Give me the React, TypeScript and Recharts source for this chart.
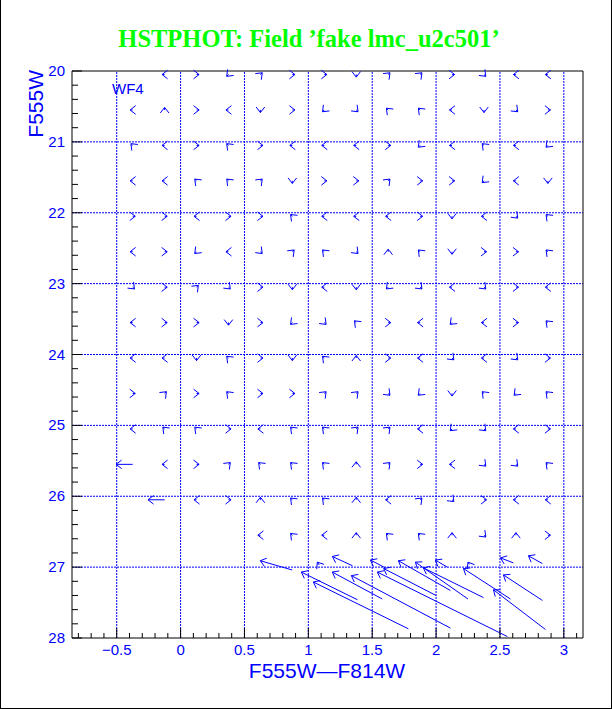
import React from "react";
import { ComposedChart, XAxis, YAxis, ReferenceLine, Scatter } from "recharts";

const BLUE = "#0000ff";
const FONT = "'Liberation Sans', Arial, sans-serif";

// bin centres (colour) and mean output magnitude of each row of bins
const colCenters = [-0.375, -0.125, 0.125, 0.375, 0.625, 0.875, 1.125, 1.375, 1.625, 1.875, 2.125, 2.375, 2.625, 2.875];
const magRows = [20.05, 20.55, 21.05, 21.55, 22.05, 22.55, 23.05, 23.55, 24.05, 24.55, 25.05, 25.55, 26.05, 26.55];

// mean shift (output - input) in each bin, [colour, magnitude]
type Shift = [number, number] | null;
const L: Shift = [-0.02, 0];
const R: Shift = [0.02, 0];
const U: Shift = [0, -0.036];
const D: Shift = [0, 0.036];
const UL: Shift = [-0.014, -0.025];
const UR: Shift = [0.014, -0.025];
const DL: Shift = [-0.014, 0.025];
const DR: Shift = [0.014, 0.025];

const row20: Shift[] = [null, L, R, DL, UR, R, R, D, UR, UR, R, DR, L, L];
const row20_5: Shift[] = [L, U, R, L, D, R, DL, DR, UL, UL, L, D, DR, R];
const row21: Shift[] = [UL, L, R, UL, R, L, L, L, R, DL, L, UL, L, DL];
const row21_5: Shift[] = [L, L, UL, UL, UR, D, R, R, UR, R, R, DL, L, D];
const row22: Shift[] = [R, R, L, R, R, UL, L, L, L, R, D, L, DR, UL];
const row22_5: Shift[] = [L, R, DL, L, DR, UR, UL, DR, U, UL, D, R, R, UL];
const row23: Shift[] = [DR, R, UR, DR, R, D, L, D, DL, DR, L, DR, R, L];
const row23_5: Shift[] = [L, R, R, D, R, DL, DR, UL, R, L, DL, L, R, UL];
const row24: Shift[] = [L, L, D, UL, R, D, UL, U, R, L, DR, L, DR, R];
const row24_5: Shift[] = [R, UR, R, UL, R, R, UR, UR, DR, DL, D, UL, DL, UL];
const row25: Shift[] = [L, UL, UL, R, L, UL, UL, UR, UR, L, DL, DR, L, R];
const row25_5: Shift[] = [[-0.13, 0], L, R, UR, UL, UL, UL, U, UR, R, L, DR, DR, UL];
const row26: Shift[] = [null, [-0.13, 0], L, R, U, UL, UL, U, L, UR, DR, R, L, L];
const row26_5: Shift[] = [null, null, null, null, L, UL, L, U, UL, UL, U, DR, U, R];

const shiftRows = [row20, row20_5, row21, row21_5, row22, row22_5, row23, row23_5, row24, row24_5, row25, row25_5, row26, row26_5];

// faint bins: [input colour, input mag, output colour, output mag]
const faintArrows: [number, number, number, number][] = [
  [0.873, 27.04, 0.624, 26.91],
  [1.384, 27.46, 0.945, 27.07],
  [1.783, 27.87, 1.039, 27.21],
  [1.085, 26.97, 1.07, 26.93],
  [1.345, 26.98, 1.188, 26.85],
  [1.579, 27.45, 1.188, 27.07],
  [2.112, 27.86, 1.337, 27.12],
  [1.603, 27.01, 1.486, 26.9],
  [2.558, 27.98, 1.54, 27.07],
  [2.0, 27.4, 1.59, 27.02],
  [2.112, 27.33, 1.705, 26.91],
  [2.25, 27.45, 1.838, 26.93],
  [2.371, 27.43, 1.9, 27.01],
  [2.088, 27.0, 1.994, 26.9],
  [2.582, 27.45, 2.214, 27.02],
  [2.26, 26.96, 2.25, 26.93],
  [2.605, 26.94, 2.504, 26.87],
  [2.856, 27.88, 2.449, 27.32],
  [2.832, 27.47, 2.527, 27.11],
  [2.832, 26.95, 2.723, 26.84],
];

const xTicks = [
  -0.8, -0.7, -0.6, -0.5, -0.4, -0.3, -0.2, -0.1, 0, 0.1, 0.2, 0.3, 0.4, 0.5, 0.6, 0.7, 0.8, 0.9,
  1, 1.1, 1.2, 1.3, 1.4, 1.5, 1.6, 1.7, 1.8, 1.9, 2, 2.1, 2.2, 2.3, 2.4, 2.5, 2.6, 2.7, 2.8, 2.9, 3, 3.1,
];
const xMajorTicks = [-0.5, 0, 0.5, 1, 1.5, 2, 2.5, 3];
const xMajorLabels = ["−0.5", "0", "0.5", "1", "1.5", "2", "2.5", "3"];

const yTicks = [
  20, 20.2, 20.4, 20.6, 20.8, 21, 21.2, 21.4, 21.6, 21.8, 22, 22.2, 22.4, 22.6, 22.8, 23, 23.2, 23.4, 23.6, 23.8,
  24, 24.2, 24.4, 24.6, 24.8, 25, 25.2, 25.4, 25.6, 25.8, 26, 26.2, 26.4, 26.6, 26.8, 27, 27.2, 27.4, 27.6, 27.8, 28,
];
const yMajorTicks = [20, 21, 22, 23, 24, 25, 26, 27, 28];
const yMajorLabels = ["20", "21", "22", "23", "24", "25", "26", "27", "28"];

const gridX = [-0.5, 0, 0.5, 1, 1.5, 2, 2.5, 3];
const gridY = [21, 22, 23, 24, 25, 26, 27];

type Arrow = { x0: number; y0: number; x1: number; y1: number };
const arrows: Arrow[] = [];
shiftRows.forEach((row, r) =>
  row.forEach((s, c) => {
    if (s) arrows.push({ x0: colCenters[c], y0: magRows[r], x1: colCenters[c] + s[0], y1: magRows[r] + s[1] });
  })
);
faintArrows.forEach(([x0, y0, x1, y1]) => arrows.push({ x0, y0, x1, y1 }));

const heads = arrows.map((a) => ({ x: a.x1, y: a.y1 }));

function ArrowShape(props: any) {
  const { x1, y1, x2, y2 } = props;
  const ang = Math.atan2(y2 - y1, x2 - x1);
  const len = 7;
  const spread = 0.66;
  const ax = x2 - len * Math.cos(ang - spread);
  const ay = y2 - len * Math.sin(ang - spread);
  const bx = x2 - len * Math.cos(ang + spread);
  const by = y2 - len * Math.sin(ang + spread);
  return (
    <g>
      <line x1={x1} y1={y1} x2={x2} y2={y2} stroke={BLUE} strokeWidth={1} />
      <polyline points={`${ax},${ay} ${x2},${y2} ${bx},${by}`} fill="none" stroke={BLUE} strokeWidth={1} />
    </g>
  );
}

function XTick(props: any) {
  const { x, y, payload } = props;
  const i = xMajorTicks.findIndex((m) => Math.abs(m - payload.value) < 1e-6);
  return (
    <g>
      <line x1={x} y1={y} x2={x} y2={y - (i >= 0 ? 10 : 5)} stroke="#000" />
      {i >= 0 && (
        <text x={x} y={y + 17} textAnchor="middle" fill={BLUE} fontSize={15} fontFamily={FONT}>
          {xMajorLabels[i]}
        </text>
      )}
    </g>
  );
}

function YTick(props: any) {
  const { x, y, payload } = props;
  const i = yMajorTicks.findIndex((m) => Math.abs(m - payload.value) < 1e-6);
  return (
    <g>
      <line x1={x} y1={y} x2={x + (i >= 0 ? 10 : 6)} y2={y} stroke="#000" />
      {i >= 0 && (
        <text x={x - 7} y={y + 5} textAnchor="end" fill={BLUE} fontSize={15} fontFamily={FONT}>
          {yMajorLabels[i]}
        </text>
      )}
    </g>
  );
}

export default function App() {
  return (
    <div style={{ position: "absolute", left: 0, top: 0, width: 612, height: 709, background: "#fff" }}>
      <ComposedChart width={612} height={709} margin={{ top: 71, right: 29, bottom: 0, left: 0 }}>
        <XAxis
          type="number"
          dataKey="x"
          domain={[-0.85, 3.15]}
          allowDataOverflow
          ticks={xTicks}
          interval={0}
          tickSize={0}
          tickMargin={0}
          tickLine={false}
          axisLine={{ stroke: "#000" }}
          tick={<XTick />}
          height={71}
        />
        <YAxis
          type="number"
          dataKey="y"
          domain={[20, 28]}
          allowDataOverflow
          reversed
          ticks={yTicks}
          interval={0}
          tickSize={0}
          tickMargin={0}
          tickLine={false}
          axisLine={{ stroke: "#000" }}
          tick={<YTick />}
          width={72}
        />
        {gridX.map((v) => (
          <ReferenceLine key={`gx${v}`} x={v} stroke={BLUE} strokeDasharray="2 1" />
        ))}
        {gridY.map((v) => (
          <ReferenceLine key={`gy${v}`} y={v} stroke={BLUE} strokeDasharray="2 1" />
        ))}
        <ReferenceLine y={20} stroke="#000" />
        <ReferenceLine x={3.15} stroke="#000" />
        {arrows.map((a, i) => (
          <ReferenceLine
            key={`a${i}`}
            segment={[
              { x: a.x0, y: a.y0 },
              { x: a.x1, y: a.y1 },
            ]}
            ifOverflow="visible"
            shape={ArrowShape}
          />
        ))}
        <Scatter data={heads} shape={() => <g />} isAnimationActive={false} />
      </ComposedChart>
      <svg width={612} height={709} style={{ position: "absolute", left: 0, top: 0, pointerEvents: "none" }}>
        <text x={309} y={47} textAnchor="middle" fill="#00ff00" fontSize={24.5} fontWeight="bold" fontFamily="'Liberation Serif', 'Times New Roman', serif">
          HSTPHOT: Field ’fake lmc_u2c501’
        </text>
        <text x={112} y={94} fill={BLUE} fontSize={15} fontFamily={FONT}>
          WF4
        </text>
        <text x={327} y={678} textAnchor="middle" fill={BLUE} fontSize={21} fontFamily={FONT}>
          F555W—F814W
        </text>
        <text x={43} y={70} transform="rotate(-90 43 70)" textAnchor="end" fill={BLUE} fontSize={21} fontFamily={FONT}>
          F555W
        </text>
      </svg>
      <div style={{ position: "absolute", left: 0, top: 0, width: 612, height: 709, boxSizing: "border-box", borderLeft: "1px solid #000", borderBottom: "1px solid #000", borderRight: "1px solid #000", pointerEvents: "none" }} />
    </div>
  );
}
